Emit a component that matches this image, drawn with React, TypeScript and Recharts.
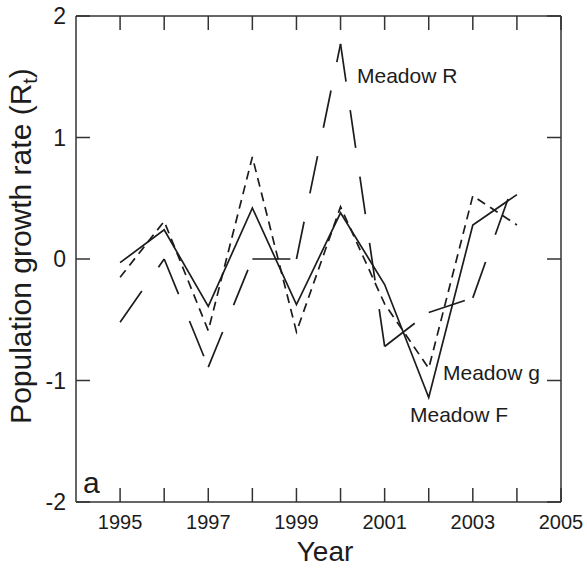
import React from 'react';
import { LineChart, Line, XAxis, YAxis } from 'recharts';

const years = [1995, 1996, 1997, 1998, 1999, 2000, 2001, 2002, 2003, 2004];
const meadowF = [-0.03, 0.24, -0.39, 0.42, -0.375, 0.38, -0.21, -1.14, 0.28, 0.53];
const meadowG = [-0.15, 0.31, -0.59, 0.84, -0.6, 0.43, -0.37, -0.9, 0.52, 0.28];
const meadowR = [-0.52, 0.0, -0.89, 0.0, 0.0, 1.77, -0.72, -0.44, -0.32, 0.7];

const xTicks = [1995, 1996, 1997, 1998, 1999, 2000, 2001, 2002, 2003, 2004, 2005];
const xTickLabels = ['1995', '1997', '1999', '2001', '2003', '2005'];
const yTicks = [-2, -1, 0, 1, 2];
const yTickLabels = ['-2', '-1', '0', '1', '2'];

// Meadow R is drawn one segment per series so that its long-dash pattern
// restarts at every yearly vertex, like the original plot.
const rSegmentKeys = years.slice(0, -1).map((_, k) => `R${k}`);

const data = years.map((year, i) => {
  const row: Record<string, number | null> = { year, F: meadowF[i], g: meadowG[i] };
  rSegmentKeys.forEach((key, k) => {
    row[key] = i === k || i === k + 1 ? meadowR[i] : null;
  });
  return row;
});

const FONT = 'Liberation Sans, Arial, sans-serif';
const INK = '#1c1c1c';
const FRAME = '#333';
const blank = () => '';

export default function App() {
  return (
    <div style={{ position: 'absolute', left: 0, top: 0, background: '#fff' }}>
      <LineChart
        width={587}
        height={572}
        data={data}
        margin={{ top: 15, right: 25, bottom: 40, left: 16 }}
      >
        <XAxis
          xAxisId="bottom"
          dataKey="year"
          type="number"
          domain={[1994, 2005]}
          ticks={xTicks}
          interval={0}
          orientation="bottom"
          height={30}
          tickSize={-14}
          tickMargin={27}
          tickFormatter={(v: number) => (xTickLabels.includes(String(v)) ? String(v) : '')}
          tick={{ fontSize: 20, fill: INK, fontFamily: FONT }}
          axisLine={{ stroke: FRAME, strokeWidth: 1.5 }}
          tickLine={{ stroke: FRAME, strokeWidth: 1.5 }}
        />
        <XAxis
          xAxisId="top"
          dataKey="year"
          type="number"
          domain={[1994, 2005]}
          ticks={xTicks}
          interval={0}
          orientation="top"
          height={1}
          tickSize={-14}
          tickFormatter={blank}
          tick={{ fontSize: 1, fill: 'none' }}
          axisLine={{ stroke: FRAME, strokeWidth: 1.5 }}
          tickLine={{ stroke: FRAME, strokeWidth: 1.5 }}
        />
        <YAxis
          yAxisId="left"
          type="number"
          domain={[-2, 2]}
          ticks={yTicks}
          interval={0}
          orientation="left"
          width={60}
          tickSize={-14}
          tickMargin={24}
          tickFormatter={(v: number) => yTickLabels[yTicks.indexOf(v)] ?? ''}
          tick={{ fontSize: 23, fill: INK, fontFamily: FONT }}
          axisLine={{ stroke: FRAME, strokeWidth: 1.5 }}
          tickLine={{ stroke: FRAME, strokeWidth: 1.5 }}
        />
        <YAxis
          yAxisId="right"
          type="number"
          domain={[-2, 2]}
          ticks={yTicks}
          interval={0}
          orientation="right"
          width={1}
          tickSize={-14}
          tickFormatter={blank}
          tick={{ fontSize: 1, fill: 'none' }}
          axisLine={{ stroke: FRAME, strokeWidth: 1.5 }}
          tickLine={{ stroke: FRAME, strokeWidth: 1.5 }}
        />
        {/* invisible series so the top and right frame axes get a scale */}
        <Line
          xAxisId="top"
          yAxisId="right"
          type="linear"
          dataKey="F"
          stroke="none"
          dot={false}
          activeDot={false}
          isAnimationActive={false}
        />
        <Line
          xAxisId="bottom"
          yAxisId="left"
          type="linear"
          dataKey="F"
          stroke={INK}
          strokeWidth={1.7}
          dot={false}
          isAnimationActive={false}
        />
        <Line
          xAxisId="bottom"
          yAxisId="left"
          type="linear"
          dataKey="g"
          stroke={INK}
          strokeWidth={1.7}
          strokeDasharray="9 6"
          dot={false}
          isAnimationActive={false}
        />
        {rSegmentKeys.map((key) => (
          <Line
            key={key}
            xAxisId="bottom"
            yAxisId="left"
            type="linear"
            dataKey={key}
            stroke={INK}
            strokeWidth={1.7}
            strokeDasharray="38 29"
            dot={false}
            activeDot={false}
            isAnimationActive={false}
          />
        ))}
        <text x={357} y={83} fontSize={21} fontFamily={FONT} fill={INK}>Meadow R</text>
        <text x={443} y={380} fontSize={21} fontFamily={FONT} fill={INK}>Meadow g</text>
        <text x={410} y={422} fontSize={21} fontFamily={FONT} fill={INK}>Meadow F</text>
        <text x={83} y={493} fontSize={30} fontFamily={FONT} fill={INK}>a</text>
        <text x={325} y={561} fontSize={28} fontFamily={FONT} fill={INK} textAnchor="middle">Year</text>
        <text
          x={31}
          y={246}
          fontSize={30}
          fontFamily={FONT}
          fill={INK}
          textAnchor="middle"
          transform="rotate(-90 31 246)"
        >
          Population growth rate (R
          <tspan fontSize={20} dy={6}>t</tspan>
          <tspan dy={-6}>)</tspan>
        </text>
      </LineChart>
    </div>
  );
}
